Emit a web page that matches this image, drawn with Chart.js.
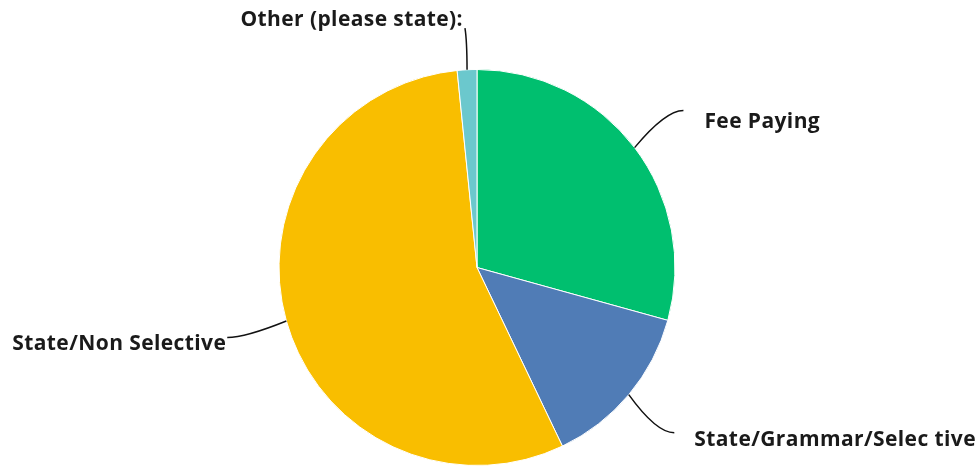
<!DOCTYPE html>
<html>
<head>
<meta charset="utf-8">
<script src="https://cdn.jsdelivr.net/npm/chart.js@4/dist/chart.umd.min.js"></script>
<style>
html,body{margin:0;padding:0;background:#fff;}
#wrap{width:979px;height:466px;position:relative;}
</style>
</head>
<body>
<div id="wrap"><canvas id="c" width="979" height="466"></canvas></div>
<script>
const categories = ["Fee Paying", "State/Grammar/Selec tive", "State/Non Selective", "Other (please state):"];
const values = [29.3, 13.6, 55.5, 1.6];
const colors = ["#00BF6F", "#507CB6", "#F9BE00", "#6BC8CD"];

// label placement styles (per slice): radial factor of the leader end, side
const labelStyle = [
  {rf: 1.31, side: 'right', gap: 21, dy: 12},
  {rf: 1.30, side: 'right', gap: 20, dy: 7},
  {rf: 1.31, side: 'left', gap: 1, dy: 7},
  {rf: 1.21, side: 'top', gap: 0, dy: -8}
];

const leaderPlugin = {
  id: 'leaders',
  afterDatasetsDraw(chart) {
    const ctx = chart.ctx;
    const meta = chart.getDatasetMeta(0);
    ctx.save();
    ctx.font = 'bold 21px "Open Sans", sans-serif';
    try { ctx.letterSpacing = '0.4px'; } catch (e) {}
    ctx.fillStyle = '#1a1a1a';
    ctx.strokeStyle = '#111';
    ctx.lineWidth = 1.5;
    meta.data.forEach((arc, i) => {
      const p = arc.getProps(['x','y','startAngle','endAngle','outerRadius'], true);
      const mid = (p.startAngle + p.endAngle) / 2;
      const st = labelStyle[i];
      const sx = p.x + Math.cos(mid) * p.outerRadius;
      const sy = p.y + Math.sin(mid) * p.outerRadius;
      const ex = p.x + Math.cos(mid) * p.outerRadius * st.rf;
      const ey = p.y + Math.sin(mid) * p.outerRadius * st.rf;
      let cx, cy;
      if (st.side === 'right') { cx = ex - 18; cy = ey; }
      else if (st.side === 'left') { cx = ex + 18; cy = ey; }
      else { cx = ex + 2; cy = ey + 12; }
      ctx.beginPath();
      ctx.moveTo(sx, sy);
      ctx.quadraticCurveTo(cx, cy, ex, ey);
      ctx.stroke();
      const label = chart.data.labels[i];
      ctx.textBaseline = 'middle';
      if (st.side === 'right') {
        ctx.textAlign = 'left';
        ctx.fillText(label, ex + st.gap, ey + st.dy);
      } else if (st.side === 'left') {
        ctx.textAlign = 'right';
        ctx.fillText(label, ex - st.gap, ey + st.dy);
      } else {
        ctx.textAlign = 'right';
        ctx.fillText(label, ex - 2, ey + st.dy);
      }
    });
    ctx.restore();
  }
};

new Chart(document.getElementById('c'), {
  type: 'pie',
  data: {
    labels: categories,
    datasets: [{
      data: values,
      backgroundColor: colors,
      borderColor: '#ffffff',
      borderWidth: 1
    }]
  },
  options: {
    responsive: false,
    animation: false,
    layout: {padding: {top: 69, bottom: 0, left: 0, right: 25}},
    plugins: {legend: {display: false}, tooltip: {enabled: false}}
  },
  plugins: [leaderPlugin]
});
</script>
</body>
</html>
